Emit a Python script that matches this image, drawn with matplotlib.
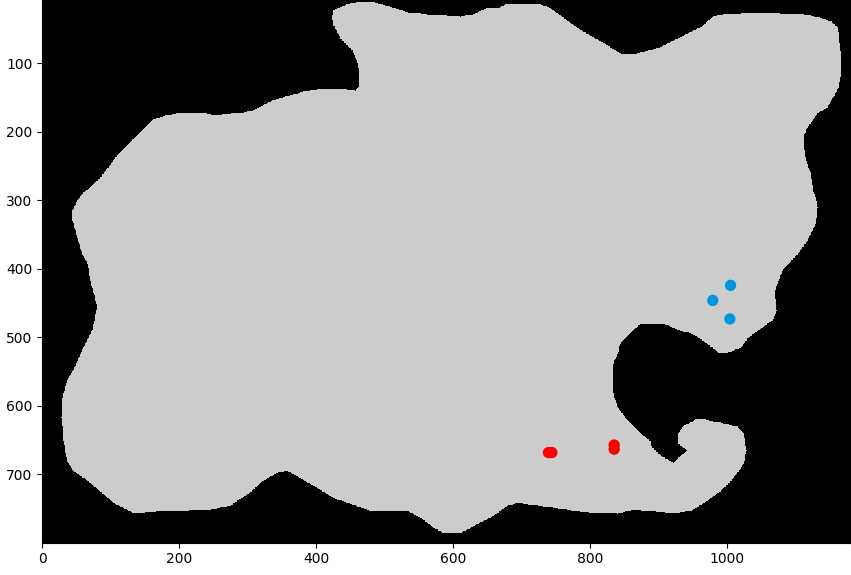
import numpy as np
import matplotlib
matplotlib.use("Agg")
import matplotlib.pyplot as plt
from matplotlib.path import Path

# Image size (pixels of the underlying map)
img_w, img_h = 1180, 800

# Outline of the region (data coordinates, x = column, y = row)
outline_x = [457, 461, 463, 460, 452, 435, 425, 422, 425, 439, 449, 474, 489, 503, 533, 571, 610, 629, 649, 668,
             679, 722, 741, 785, 819, 843, 868, 902, 931, 960, 979, 994, 1043, 1110, 1131, 1150, 1160, 1163, 1166, 1162,
             1145, 1131, 1116, 1110, 1113, 1121, 1124, 1128, 1131, 1128, 1116, 1102, 1080, 1070, 1068, 1071, 1065, 1048, 1030, 1019,
             1000, 986, 979, 960, 946, 931, 906, 873, 858, 843, 839, 833, 832, 833, 839, 854, 873, 887, 890, 902,
             921, 928, 941, 928, 927, 935, 956, 989, 1014, 1023, 1027, 1023, 1008, 989, 970, 946, 921, 883, 862, 839,
             810, 785, 746, 716, 693, 679, 658, 625, 610, 585, 571, 552, 533, 479, 449, 425, 401, 376, 357, 343,
             322, 303, 274, 245, 182, 133, 124, 104, 70, 45, 36, 31, 28, 29, 36, 45, 60, 74, 80, 77,
             70, 66, 58, 51, 44, 44, 51, 60, 70, 85, 109, 128, 143, 162, 182, 201, 235, 250, 289, 308,
             328, 337, 362, 376, 391, 420, 435]
outline_y = [140, 135, 121, 100, 81, 64, 45, 33, 23, 17, 13, 10, 13, 17, 26, 30, 32, 29, 20, 19,
             13, 13, 20, 52, 71, 86, 86, 77, 62, 48, 32, 29, 27, 29, 33, 39, 48, 71, 106, 135,
             165, 173, 194, 208, 238, 261, 286, 296, 311, 334, 359, 378, 402, 427, 436, 461, 475, 487, 500, 515,
             522, 522, 516, 502, 494, 490, 480, 480, 493, 509, 524, 538, 563, 582, 602, 621, 640, 651, 661, 672,
             683, 675, 665, 655, 640, 629, 618, 624, 630, 640, 665, 684, 705, 724, 738, 753, 756, 753, 751, 757,
             756, 754, 748, 744, 741, 745, 760, 777, 785, 785, 777, 763, 753, 753, 742, 734, 719, 705, 694, 697,
             709, 726, 745, 751, 753, 756, 751, 741, 712, 694, 680, 651, 617, 588, 563, 548, 515, 486, 456, 442,
             417, 392, 378, 354, 330, 315, 300, 289, 281, 267, 235, 216, 201, 182, 176, 173, 173, 176, 173, 169,
             159, 154, 147, 143, 140, 137, 138]

# Marked points
blue_x = [1005, 979, 1004]
blue_y = [424, 446, 473]
red_x = [739, 744, 835, 835]
red_y = [668, 668, 657, 663]

# Build raster
verts = np.column_stack([outline_x, outline_y])
path = Path(verts, closed=True)
cols, rows = np.meshgrid(np.arange(img_w), np.arange(img_h))
pts = np.column_stack([cols.ravel(), rows.ravel()])
inside = path.contains_points(pts).reshape(img_h, img_w)
img = np.zeros((img_h, img_w, 3))
img[inside] = 0.8

fig = plt.figure(figsize=(8.51, 5.75), dpi=100)
ax = fig.add_axes([0.0494, 0.0562, 0.9495, 0.9535])
ax.imshow(img, interpolation="nearest", aspect="auto")
ax.scatter(blue_x, blue_y, s=66, color="#0096DC", edgecolors="none")
ax.scatter(red_x, red_y, s=66, color="#FF0000", edgecolors="none")
ax.set_xlim(-0.5, img_w - 0.5)
ax.set_ylim(img_h - 0.5, -0.5)
ax.set_xticks([0, 200, 400, 600, 800, 1000])
ax.set_yticks([100, 200, 300, 400, 500, 600, 700])
fig.savefig("out.png", dpi=100)
